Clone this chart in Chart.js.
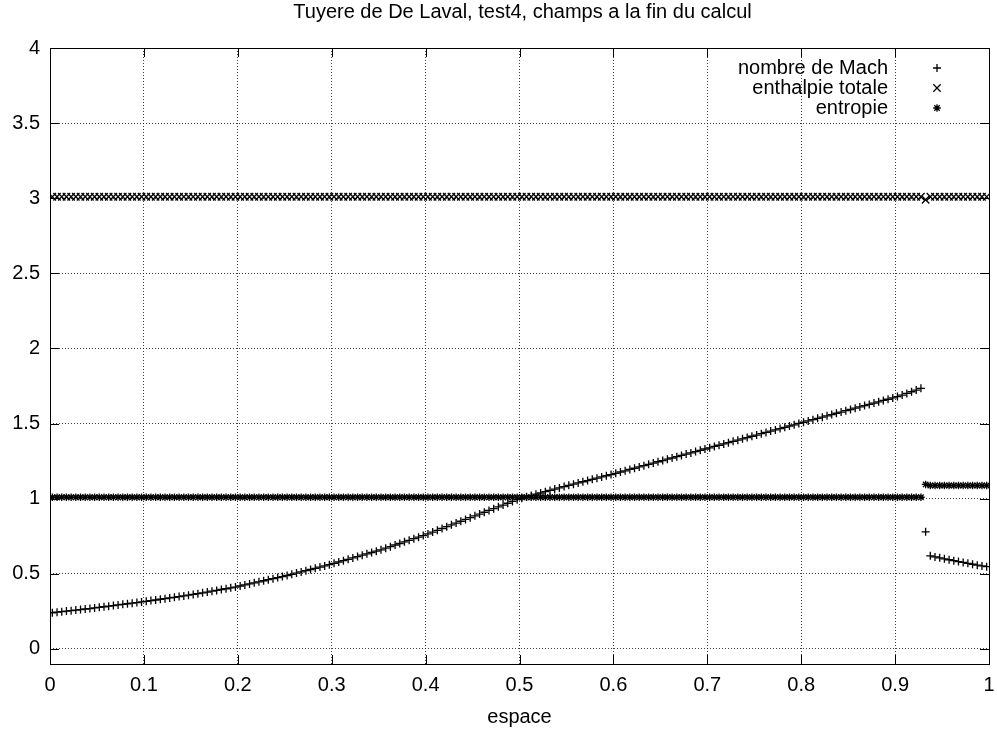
<!DOCTYPE html>
<html>
<head>
<meta charset="utf-8">
<style>
  html, body { margin: 0; padding: 0; background: #fff; }
  #c { display: block; }
</style>
<script src="https://cdn.jsdelivr.net/npm/chart.js@4/dist/chart.umd.min.js"></script>
</head>
<body>
<canvas id="c" width="997" height="731"></canvas>
<script>
// ---------- data ----------
const titleText = "Tuyere de De Laval, test4, champs a la fin du calcul";
const xTitle = "espace";
const seriesNames = ["nombre de Mach", "enthalpie totale", "entropie"];

const xTicks = [0, 0.1, 0.2, 0.3, 0.4, 0.5, 0.6, 0.7, 0.8, 0.9, 1];
const xTickLabels = ["0", "0.1", "0.2", "0.3", "0.4", "0.5", "0.6", "0.7", "0.8", "0.9", "1"];
const yTicks = [0, 0.5, 1, 1.5, 2, 2.5, 3, 3.5, 4];
const yTickLabels = ["0", "0.5", "1", "1.5", "2", "2.5", "3", "3.5", "4"];

// cell centres along the nozzle
const espace = [
  0.0025,0.0075,0.0125,0.0175,0.0225,0.0275,0.0325,0.0375,0.0425,0.0475,
  0.0525,0.0575,0.0625,0.0675,0.0725,0.0775,0.0825,0.0875,0.0925,0.0975,
  0.1025,0.1075,0.1125,0.1175,0.1225,0.1275,0.1325,0.1375,0.1425,0.1475,
  0.1525,0.1575,0.1625,0.1675,0.1725,0.1775,0.1825,0.1875,0.1925,0.1975,
  0.2025,0.2075,0.2125,0.2175,0.2225,0.2275,0.2325,0.2375,0.2425,0.2475,
  0.2525,0.2575,0.2625,0.2675,0.2725,0.2775,0.2825,0.2875,0.2925,0.2975,
  0.3025,0.3075,0.3125,0.3175,0.3225,0.3275,0.3325,0.3375,0.3425,0.3475,
  0.3525,0.3575,0.3625,0.3675,0.3725,0.3775,0.3825,0.3875,0.3925,0.3975,
  0.4025,0.4075,0.4125,0.4175,0.4225,0.4275,0.4325,0.4375,0.4425,0.4475,
  0.4525,0.4575,0.4625,0.4675,0.4725,0.4775,0.4825,0.4875,0.4925,0.4975,
  0.5025,0.5075,0.5125,0.5175,0.5225,0.5275,0.5325,0.5375,0.5425,0.5475,
  0.5525,0.5575,0.5625,0.5675,0.5725,0.5775,0.5825,0.5875,0.5925,0.5975,
  0.6025,0.6075,0.6125,0.6175,0.6225,0.6275,0.6325,0.6375,0.6425,0.6475,
  0.6525,0.6575,0.6625,0.6675,0.6725,0.6775,0.6825,0.6875,0.6925,0.6975,
  0.7025,0.7075,0.7125,0.7175,0.7225,0.7275,0.7325,0.7375,0.7425,0.7475,
  0.7525,0.7575,0.7625,0.7675,0.7725,0.7775,0.7825,0.7875,0.7925,0.7975,
  0.8025,0.8075,0.8125,0.8175,0.8225,0.8275,0.8325,0.8375,0.8425,0.8475,
  0.8525,0.8575,0.8625,0.8675,0.8725,0.8775,0.8825,0.8875,0.8925,0.8975,
  0.9025,0.9075,0.9125,0.9175,0.9225,0.9275,0.9325,0.9375,0.9425,0.9475,
  0.9525,0.9575,0.9625,0.9675,0.9725,0.9775,0.9825,0.9875,0.9925,0.9975
];

const nombreDeMach = [
  0.241,0.245,0.248,0.252,0.255,0.259,0.262,0.266,0.269,0.273,
  0.277,0.281,0.285,0.289,0.293,0.297,0.301,0.305,0.309,0.313,
  0.317,0.322,0.326,0.331,0.335,0.340,0.344,0.349,0.353,0.358,
  0.363,0.368,0.374,0.379,0.385,0.390,0.396,0.401,0.407,0.412,
  0.419,0.426,0.433,0.440,0.447,0.454,0.461,0.468,0.475,0.482,
  0.489,0.497,0.505,0.513,0.521,0.529,0.537,0.545,0.553,0.561,
  0.570,0.579,0.588,0.597,0.606,0.615,0.624,0.633,0.642,0.651,
  0.660,0.671,0.681,0.692,0.702,0.713,0.723,0.734,0.744,0.755,
  0.766,0.778,0.790,0.802,0.814,0.826,0.838,0.850,0.862,0.874,
  0.886,0.898,0.910,0.922,0.934,0.946,0.958,0.970,0.982,0.994,
  1.004,1.013,1.021,1.030,1.038,1.047,1.055,1.064,1.072,1.081,
  1.089,1.097,1.105,1.113,1.121,1.129,1.137,1.145,1.153,1.161,
  1.169,1.178,1.186,1.195,1.203,1.212,1.220,1.229,1.237,1.246,
  1.254,1.263,1.271,1.280,1.288,1.297,1.305,1.314,1.322,1.331,
  1.339,1.348,1.356,1.365,1.373,1.382,1.390,1.399,1.407,1.416,
  1.424,1.433,1.441,1.450,1.458,1.467,1.475,1.484,1.492,1.501,
  1.509,1.518,1.526,1.535,1.543,1.552,1.560,1.569,1.577,1.586,
  1.594,1.603,1.611,1.620,1.628,1.637,1.645,1.654,1.662,1.671,
  1.680,1.690,1.701,1.712,1.723,1.735,0.780,0.620,0.613,0.607,
  0.600,0.594,0.588,0.582,0.576,0.570,0.564,0.558,0.553,0.548
];

const enthalpieTotale = [
  3.01,3.01,3.01,3.01,3.01,3.01,3.01,3.01,3.01,3.01,
  3.01,3.01,3.01,3.01,3.01,3.01,3.01,3.01,3.01,3.01,
  3.01,3.01,3.01,3.01,3.01,3.01,3.01,3.01,3.01,3.01,
  3.01,3.01,3.01,3.01,3.01,3.01,3.01,3.01,3.01,3.01,
  3.01,3.01,3.01,3.01,3.01,3.01,3.01,3.01,3.01,3.01,
  3.01,3.01,3.01,3.01,3.01,3.01,3.01,3.01,3.01,3.01,
  3.01,3.01,3.01,3.01,3.01,3.01,3.01,3.01,3.01,3.01,
  3.01,3.01,3.01,3.01,3.01,3.01,3.01,3.01,3.01,3.01,
  3.01,3.01,3.01,3.01,3.01,3.01,3.01,3.01,3.01,3.01,
  3.01,3.01,3.01,3.01,3.01,3.01,3.01,3.01,3.01,3.01,
  3.01,3.01,3.01,3.01,3.01,3.01,3.01,3.01,3.01,3.01,
  3.01,3.01,3.01,3.01,3.01,3.01,3.01,3.01,3.01,3.01,
  3.01,3.01,3.01,3.01,3.01,3.01,3.01,3.01,3.01,3.01,
  3.01,3.01,3.01,3.01,3.01,3.01,3.01,3.01,3.01,3.01,
  3.01,3.01,3.01,3.01,3.01,3.01,3.01,3.01,3.01,3.01,
  3.01,3.01,3.01,3.01,3.01,3.01,3.01,3.01,3.01,3.01,
  3.01,3.01,3.01,3.01,3.01,3.01,3.01,3.01,3.01,3.01,
  3.01,3.01,3.01,3.01,3.01,3.01,3.01,3.01,3.01,3.01,
  3.01,3.01,3.01,3.01,3.01,3.01,2.99,3.01,3.01,3.01,
  3.01,3.01,3.01,3.01,3.01,3.01,3.01,3.01,3.01,3.01
];

const entropie = [
  1.01,1.01,1.01,1.01,1.01,1.01,1.01,1.01,1.01,1.01,
  1.01,1.01,1.01,1.01,1.01,1.01,1.01,1.01,1.01,1.01,
  1.01,1.01,1.01,1.01,1.01,1.01,1.01,1.01,1.01,1.01,
  1.01,1.01,1.01,1.01,1.01,1.01,1.01,1.01,1.01,1.01,
  1.01,1.01,1.01,1.01,1.01,1.01,1.01,1.01,1.01,1.01,
  1.01,1.01,1.01,1.01,1.01,1.01,1.01,1.01,1.01,1.01,
  1.01,1.01,1.01,1.01,1.01,1.01,1.01,1.01,1.01,1.01,
  1.01,1.01,1.01,1.01,1.01,1.01,1.01,1.01,1.01,1.01,
  1.01,1.01,1.01,1.01,1.01,1.01,1.01,1.01,1.01,1.01,
  1.01,1.01,1.01,1.01,1.01,1.01,1.01,1.01,1.01,1.01,
  1.01,1.01,1.01,1.01,1.01,1.01,1.01,1.01,1.01,1.01,
  1.01,1.01,1.01,1.01,1.01,1.01,1.01,1.01,1.01,1.01,
  1.01,1.01,1.01,1.01,1.01,1.01,1.01,1.01,1.01,1.01,
  1.01,1.01,1.01,1.01,1.01,1.01,1.01,1.01,1.01,1.01,
  1.01,1.01,1.01,1.01,1.01,1.01,1.01,1.01,1.01,1.01,
  1.01,1.01,1.01,1.01,1.01,1.01,1.01,1.01,1.01,1.01,
  1.01,1.01,1.01,1.01,1.01,1.01,1.01,1.01,1.01,1.01,
  1.01,1.01,1.01,1.01,1.01,1.01,1.01,1.01,1.01,1.01,
  1.01,1.01,1.01,1.01,1.01,1.01,1.095,1.088,1.088,1.088,
  1.088,1.088,1.088,1.088,1.088,1.088,1.088,1.088,1.088,1.088
];

// ---------- chart ----------
const FONT = "'Liberation Sans', Arial, Helvetica, sans-serif";
const FSIZE = 20;
Chart.defaults.font.family = FONT;
Chart.defaults.font.size = FSIZE;
Chart.defaults.color = '#000';

function toPoints(ys) { return espace.map((x, i) => ({ x: x, y: ys[i] })); }

const TICK_LEN = 9;
const framePlugin = {
  id: 'gnuFrame',
  afterDraw(chart) {
    // title, centred over the plotting area as gnuplot does
    const ctx = chart.ctx, a = chart.chartArea;
    ctx.save();
    ctx.font = FSIZE + 'px ' + FONT;
    ctx.textAlign = 'center';
    ctx.textBaseline = 'middle';
    ctx.fillStyle = '#000';
    ctx.fillText(titleText, (a.left + a.right) / 2 + 3, 12);
    ctx.restore();
  },
  afterDatasetsDraw(chart) {
    const ctx = chart.ctx, a = chart.chartArea;
    const xs = chart.scales.x, ys = chart.scales.y;
    ctx.save();
    ctx.strokeStyle = '#000';
    ctx.lineWidth = 1;
    ctx.setLineDash([]);
    ctx.beginPath();
    xTicks.forEach(v => {
      const px = Math.round(xs.getPixelForValue(v)) + 0.5;
      ctx.moveTo(px, a.bottom); ctx.lineTo(px, a.bottom - TICK_LEN);
      ctx.moveTo(px, a.top); ctx.lineTo(px, a.top + TICK_LEN);
    });
    yTicks.forEach(v => {
      const py = Math.round(ys.getPixelForValue(v)) + 0.5;
      ctx.moveTo(a.left, py); ctx.lineTo(a.left + TICK_LEN, py);
      ctx.moveTo(a.right, py); ctx.lineTo(a.right - TICK_LEN, py);
    });
    ctx.stroke();
    ctx.strokeRect(Math.round(a.left) + 0.5, Math.round(a.top) + 0.5,
                   Math.round(a.right - a.left), Math.round(a.bottom - a.top));

    // key, gnuplot style: right-aligned text then the marker
    ctx.font = FSIZE + 'px ' + FONT;
    ctx.textAlign = 'right';
    ctx.textBaseline = 'middle';
    ctx.fillStyle = '#000';
    ctx.lineWidth = 1.3;
    chart.data.datasets.forEach((ds, i) => {
      const yy = a.top + 20 + i * 20;
      ctx.fillText(ds.label, a.right - 101, yy);
      Chart.helpers.drawPoint(ctx, {
        pointStyle: ds.pointStyle, radius: ds.pointRadius, borderWidth: 1.3, rotation: 0
      }, a.right - 52, yy);
    });
    ctx.restore();
  }
};

new Chart(document.getElementById('c'), {
  type: 'scatter',
  data: {
    datasets: [
      { label: seriesNames[0], data: toPoints(nombreDeMach), pointStyle: 'cross',
        pointRadius: 4, pointHoverRadius: 4, borderColor: '#000', backgroundColor: '#000', borderWidth: 1.3, order: 3 },
      { label: seriesNames[1], data: toPoints(enthalpieTotale), pointStyle: 'crossRot',
        pointRadius: 5.2, pointHoverRadius: 5.2, borderColor: '#000', backgroundColor: '#000', borderWidth: 1.3, order: 2 },
      { label: seriesNames[2], data: toPoints(entropie), pointStyle: 'star',
        pointRadius: 3.8, pointHoverRadius: 3.8, borderColor: '#000', backgroundColor: '#000', borderWidth: 1.3, order: 1 }
    ]
  },
  options: {
    responsive: false,
    animation: false,
    events: [],
    layout: { padding: { left: 0, right: 8, top: 48, bottom: 0 } },
    plugins: {
      legend: { display: false },
      tooltip: { enabled: false },
      title: { display: false }
    },
    scales: {
      x: {
        type: 'linear', min: 0, max: 1,
        afterBuildTicks: s => { s.ticks = xTicks.map(v => ({ value: v })); },
        afterFit: s => { s.height = 67; s.paddingLeft = 0; s.paddingRight = 0; },
        ticks: { padding: 9, color: '#000', maxRotation: 0, autoSkip: false,
                 callback: (v) => xTickLabels[xTicks.indexOf(v)] },
        grid: { color: 'rgba(0,0,0,0.75)', lineWidth: 1, drawTicks: false, borderDash: [1, 2] },
        border: { display: false, dash: [1, 2] },
        title: { display: true, text: xTitle, color: '#000', padding: { top: 0, bottom: 2 } }
      },
      y: {
        type: 'linear', min: -0.1, max: 4,
        afterBuildTicks: s => { s.ticks = yTicks.map(v => ({ value: v })); },
        afterFit: s => { s.width = 50; s.paddingTop = 0; s.paddingBottom = 0; },
        ticks: { padding: 10, color: '#000', autoSkip: false,
                 callback: (v) => yTickLabels[yTicks.indexOf(v)] },
        grid: { color: 'rgba(0,0,0,0.75)', lineWidth: 1, drawTicks: false, borderDash: [1, 2] },
        border: { display: false, dash: [1, 2] }
      }
    }
  },
  plugins: [framePlugin]
});
</script>
</body>
</html>
